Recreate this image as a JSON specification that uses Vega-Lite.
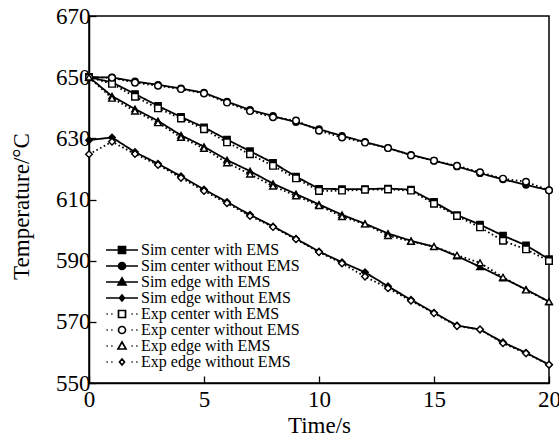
{
"$schema": "https://vega.github.io/schema/vega-lite/v6.json",
"width": 460, "height": 367,
"autosize": {"type": "none"},
"padding": {"left": 89, "top": 16, "right": 10, "bottom": 54},
"config": {
  "view": {"stroke": "#000", "strokeWidth": 1.5},
  "font": "Liberation Serif",
  "style": {"guide-label": {"font": "Liberation Serif"}, "guide-title": {"font": "Liberation Serif"}},
  "axis": {"grid": false, "domainColor": "#000", "domainWidth": 1.5, "tickColor": "#000", "tickWidth": 1.3, "tickSize": -7, "labelColor": "#000", "titleColor": "#000", "labelFont": "Liberation Serif", "titleFont": "Liberation Serif", "labelFontSize": 23, "titleFontSize": 23, "titleFontWeight": "normal", "labelFlush": false, "labelOverlap": false}
},
"datasets": {
  "main": [
{"t":0,"T":650.0,"s":"Sim center with EMS"},{"t":1,"T":648.3,"s":"Sim center with EMS"},{"t":2,"T":644.5,"s":"Sim center with EMS"},{"t":3,"T":640.6,"s":"Sim center with EMS"},{"t":4,"T":637.0,"s":"Sim center with EMS"},{"t":5,"T":633.6,"s":"Sim center with EMS"},{"t":6,"T":629.6,"s":"Sim center with EMS"},{"t":7,"T":625.8,"s":"Sim center with EMS"},{"t":8,"T":622.0,"s":"Sim center with EMS"},{"t":9,"T":617.5,"s":"Sim center with EMS"},{"t":10,"T":613.5,"s":"Sim center with EMS"},{"t":11,"T":613.4,"s":"Sim center with EMS"},{"t":12,"T":613.4,"s":"Sim center with EMS"},{"t":13,"T":613.6,"s":"Sim center with EMS"},{"t":14,"T":613.2,"s":"Sim center with EMS"},{"t":15,"T":609.2,"s":"Sim center with EMS"},{"t":16,"T":604.9,"s":"Sim center with EMS"},{"t":17,"T":601.8,"s":"Sim center with EMS"},{"t":18,"T":598.2,"s":"Sim center with EMS"},{"t":19,"T":595.0,"s":"Sim center with EMS"},{"t":20,"T":590.5,"s":"Sim center with EMS"},
{"t":0,"T":650.0,"s":"Sim center without EMS"},{"t":1,"T":649.9,"s":"Sim center without EMS"},{"t":2,"T":648.6,"s":"Sim center without EMS"},{"t":3,"T":647.5,"s":"Sim center without EMS"},{"t":4,"T":646.3,"s":"Sim center without EMS"},{"t":5,"T":644.9,"s":"Sim center without EMS"},{"t":6,"T":642.0,"s":"Sim center without EMS"},{"t":7,"T":639.3,"s":"Sim center without EMS"},{"t":8,"T":637.3,"s":"Sim center without EMS"},{"t":9,"T":635.3,"s":"Sim center without EMS"},{"t":10,"T":633.0,"s":"Sim center without EMS"},{"t":11,"T":630.8,"s":"Sim center without EMS"},{"t":12,"T":628.8,"s":"Sim center without EMS"},{"t":13,"T":626.8,"s":"Sim center without EMS"},{"t":14,"T":624.6,"s":"Sim center without EMS"},{"t":15,"T":622.7,"s":"Sim center without EMS"},{"t":16,"T":620.8,"s":"Sim center without EMS"},{"t":17,"T":618.6,"s":"Sim center without EMS"},{"t":18,"T":616.6,"s":"Sim center without EMS"},{"t":19,"T":614.8,"s":"Sim center without EMS"},{"t":20,"T":613.0,"s":"Sim center without EMS"},
{"t":0,"T":650.0,"s":"Sim edge with EMS"},{"t":1,"T":643.8,"s":"Sim edge with EMS"},{"t":2,"T":639.6,"s":"Sim edge with EMS"},{"t":3,"T":635.7,"s":"Sim edge with EMS"},{"t":4,"T":631.0,"s":"Sim edge with EMS"},{"t":5,"T":627.3,"s":"Sim edge with EMS"},{"t":6,"T":622.9,"s":"Sim edge with EMS"},{"t":7,"T":619.3,"s":"Sim edge with EMS"},{"t":8,"T":615.2,"s":"Sim edge with EMS"},{"t":9,"T":611.8,"s":"Sim edge with EMS"},{"t":10,"T":608.4,"s":"Sim edge with EMS"},{"t":11,"T":605.0,"s":"Sim edge with EMS"},{"t":12,"T":602.1,"s":"Sim edge with EMS"},{"t":13,"T":598.9,"s":"Sim edge with EMS"},{"t":14,"T":596.5,"s":"Sim edge with EMS"},{"t":15,"T":594.6,"s":"Sim edge with EMS"},{"t":16,"T":591.5,"s":"Sim edge with EMS"},{"t":17,"T":588.0,"s":"Sim edge with EMS"},{"t":18,"T":584.3,"s":"Sim edge with EMS"},{"t":19,"T":580.6,"s":"Sim edge with EMS"},{"t":20,"T":576.6,"s":"Sim edge with EMS"},
{"t":0,"T":629.4,"s":"Sim edge without EMS"},{"t":1,"T":630.3,"s":"Sim edge without EMS"},{"t":2,"T":625.5,"s":"Sim edge without EMS"},{"t":3,"T":621.7,"s":"Sim edge without EMS"},{"t":4,"T":617.6,"s":"Sim edge without EMS"},{"t":5,"T":613.3,"s":"Sim edge without EMS"},{"t":6,"T":609.2,"s":"Sim edge without EMS"},{"t":7,"T":605.0,"s":"Sim edge without EMS"},{"t":8,"T":601.2,"s":"Sim edge without EMS"},{"t":9,"T":597.2,"s":"Sim edge without EMS"},{"t":10,"T":593.0,"s":"Sim edge without EMS"},{"t":11,"T":589.5,"s":"Sim edge without EMS"},{"t":12,"T":586.2,"s":"Sim edge without EMS"},{"t":13,"T":581.6,"s":"Sim edge without EMS"},{"t":14,"T":577.2,"s":"Sim edge without EMS"},{"t":15,"T":573.0,"s":"Sim edge without EMS"},{"t":16,"T":568.8,"s":"Sim edge without EMS"},{"t":17,"T":567.5,"s":"Sim edge without EMS"},{"t":18,"T":563.3,"s":"Sim edge without EMS"},{"t":19,"T":559.9,"s":"Sim edge without EMS"},{"t":20,"T":556.0,"s":"Sim edge without EMS"},
{"t":0,"T":650.0,"s":"Exp center with EMS"},{"t":1,"T":647.8,"s":"Exp center with EMS"},{"t":2,"T":643.6,"s":"Exp center with EMS"},{"t":3,"T":639.8,"s":"Exp center with EMS"},{"t":4,"T":636.5,"s":"Exp center with EMS"},{"t":5,"T":633.0,"s":"Exp center with EMS"},{"t":6,"T":628.7,"s":"Exp center with EMS"},{"t":7,"T":624.8,"s":"Exp center with EMS"},{"t":8,"T":621.0,"s":"Exp center with EMS"},{"t":9,"T":616.9,"s":"Exp center with EMS"},{"t":10,"T":612.8,"s":"Exp center with EMS"},{"t":11,"T":612.9,"s":"Exp center with EMS"},{"t":12,"T":613.2,"s":"Exp center with EMS"},{"t":13,"T":613.3,"s":"Exp center with EMS"},{"t":14,"T":612.9,"s":"Exp center with EMS"},{"t":15,"T":608.6,"s":"Exp center with EMS"},{"t":16,"T":604.6,"s":"Exp center with EMS"},{"t":17,"T":600.9,"s":"Exp center with EMS"},{"t":18,"T":596.5,"s":"Exp center with EMS"},{"t":19,"T":593.7,"s":"Exp center with EMS"},{"t":20,"T":589.9,"s":"Exp center with EMS"},
{"t":0,"T":650.0,"s":"Exp center without EMS"},{"t":1,"T":649.8,"s":"Exp center without EMS"},{"t":2,"T":648.2,"s":"Exp center without EMS"},{"t":3,"T":647.2,"s":"Exp center without EMS"},{"t":4,"T":646.1,"s":"Exp center without EMS"},{"t":5,"T":644.7,"s":"Exp center without EMS"},{"t":6,"T":641.7,"s":"Exp center without EMS"},{"t":7,"T":638.9,"s":"Exp center without EMS"},{"t":8,"T":636.9,"s":"Exp center without EMS"},{"t":9,"T":635.8,"s":"Exp center without EMS"},{"t":10,"T":632.5,"s":"Exp center without EMS"},{"t":11,"T":630.3,"s":"Exp center without EMS"},{"t":12,"T":628.6,"s":"Exp center without EMS"},{"t":13,"T":626.8,"s":"Exp center without EMS"},{"t":14,"T":624.4,"s":"Exp center without EMS"},{"t":15,"T":622.7,"s":"Exp center without EMS"},{"t":16,"T":621.0,"s":"Exp center without EMS"},{"t":17,"T":618.9,"s":"Exp center without EMS"},{"t":18,"T":616.8,"s":"Exp center without EMS"},{"t":19,"T":615.8,"s":"Exp center without EMS"},{"t":20,"T":613.0,"s":"Exp center without EMS"},
{"t":0,"T":650.0,"s":"Exp edge with EMS"},{"t":1,"T":643.1,"s":"Exp edge with EMS"},{"t":2,"T":638.9,"s":"Exp edge with EMS"},{"t":3,"T":635.1,"s":"Exp edge with EMS"},{"t":4,"T":630.3,"s":"Exp edge with EMS"},{"t":5,"T":626.7,"s":"Exp edge with EMS"},{"t":6,"T":622.0,"s":"Exp edge with EMS"},{"t":7,"T":618.3,"s":"Exp edge with EMS"},{"t":8,"T":614.4,"s":"Exp edge with EMS"},{"t":9,"T":611.2,"s":"Exp edge with EMS"},{"t":10,"T":608.0,"s":"Exp edge with EMS"},{"t":11,"T":604.4,"s":"Exp edge with EMS"},{"t":12,"T":602.0,"s":"Exp edge with EMS"},{"t":13,"T":598.2,"s":"Exp edge with EMS"},{"t":14,"T":596.3,"s":"Exp edge with EMS"},{"t":15,"T":594.6,"s":"Exp edge with EMS"},{"t":16,"T":591.8,"s":"Exp edge with EMS"},{"t":17,"T":589.3,"s":"Exp edge with EMS"},{"t":18,"T":584.6,"s":"Exp edge with EMS"},{"t":19,"T":580.4,"s":"Exp edge with EMS"},{"t":20,"T":576.6,"s":"Exp edge with EMS"},
{"t":0,"T":624.8,"s":"Exp edge without EMS"},{"t":1,"T":628.9,"s":"Exp edge without EMS"},{"t":2,"T":624.9,"s":"Exp edge without EMS"},{"t":3,"T":621.3,"s":"Exp edge without EMS"},{"t":4,"T":617.1,"s":"Exp edge without EMS"},{"t":5,"T":612.8,"s":"Exp edge without EMS"},{"t":6,"T":608.8,"s":"Exp edge without EMS"},{"t":7,"T":604.6,"s":"Exp edge without EMS"},{"t":8,"T":601.0,"s":"Exp edge without EMS"},{"t":9,"T":597.0,"s":"Exp edge without EMS"},{"t":10,"T":592.8,"s":"Exp edge without EMS"},{"t":11,"T":589.1,"s":"Exp edge without EMS"},{"t":12,"T":584.8,"s":"Exp edge without EMS"},{"t":13,"T":581.0,"s":"Exp edge without EMS"},{"t":14,"T":576.9,"s":"Exp edge without EMS"},{"t":15,"T":572.8,"s":"Exp edge without EMS"},{"t":16,"T":568.6,"s":"Exp edge without EMS"},{"t":17,"T":567.5,"s":"Exp edge without EMS"},{"t":18,"T":563.0,"s":"Exp edge without EMS"},{"t":19,"T":559.7,"s":"Exp edge without EMS"},{"t":20,"T":556.0,"s":"Exp edge without EMS"}
  ]
},
"layer": [
  {
    "data": {"name": "main"},
    "mark": {"type": "line", "color": "#000", "strokeWidth": 1.8},
    "encoding": {
      "x": {"field": "t", "type": "quantitative", "scale": {"domain": [0, 20], "nice": false, "zero": false}, "axis": {"title": "Time/s", "values": [0, 5, 10, 15, 20], "labelPadding": 12, "titlePadding": 3, "labelFont": "Liberation Serif", "titleFont": "Liberation Serif"}},
      "y": {"field": "T", "type": "quantitative", "scale": {"domain": [550, 670], "nice": false, "zero": false}, "axis": {"title": "Temperature/°C", "values": [550, 570, 590, 610, 630, 650, 670], "labelPadding": 6, "titlePadding": 22, "titleY": 190, "labelFont": "Liberation Serif", "titleFont": "Liberation Serif"}},
      "detail": {"field": "s"},
      "strokeDash": {"field": "s", "type": "nominal", "legend": null, "scale": {"domain": ["Sim center with EMS","Sim center without EMS","Sim edge with EMS","Sim edge without EMS","Exp center with EMS","Exp center without EMS","Exp edge with EMS","Exp edge without EMS"], "range": [[1,0],[1,0],[1,0],[1,0],[1.6,2.6],[1.6,2.6],[1.6,2.6],[1.6,2.6]]}}
    }
  },
  {
    "data": {"name": "main"},
    "mark": {"type": "point", "stroke": "#000", "strokeWidth": 1.4, "opacity": 1},
    "encoding": {
      "x": {"field": "t", "type": "quantitative"},
      "y": {"field": "T", "type": "quantitative"},
      "shape": {"field": "s", "type": "nominal", "legend": null, "scale": {"domain": ["Sim center with EMS","Sim center without EMS","Sim edge with EMS","Sim edge without EMS","Exp center with EMS","Exp center without EMS","Exp edge with EMS","Exp edge without EMS"], "range": ["square","circle","triangle-up","diamond","square","circle","triangle-up","diamond"]}},
      "fill": {"field": "s", "type": "nominal", "legend": null, "scale": {"domain": ["Sim center with EMS","Sim center without EMS","Sim edge with EMS","Sim edge without EMS","Exp center with EMS","Exp center without EMS","Exp edge with EMS","Exp edge without EMS"], "range": ["#000","#000","#000","#000","#fff","#fff","#fff","#fff"]}},
      "size": {"field": "s", "type": "nominal", "legend": null, "scale": {"domain": ["Sim center with EMS","Sim center without EMS","Sim edge with EMS","Sim edge without EMS","Exp center with EMS","Exp center without EMS","Exp edge with EMS","Exp edge without EMS"], "range": [40, 45, 45, 22, 50, 64, 60, 30]}}
    }
  },
  {
    "data": {"values": [{"s":"Sim center with EMS"},{"s":"Sim center without EMS"},{"s":"Sim edge with EMS"},{"s":"Sim edge without EMS"},{"s":"Exp center with EMS"},{"s":"Exp center without EMS"},{"s":"Exp edge with EMS"},{"s":"Exp edge without EMS"}]},
    "mark": {"type": "point", "opacity": 0, "filled": true},
    "encoding": {
      "fill": {"field": "s", "type": "nominal",
        "scale": {"domain": ["Sim center with EMS","Sim center without EMS","Sim edge with EMS","Sim edge without EMS","Exp center with EMS","Exp center without EMS","Exp edge with EMS","Exp edge without EMS"], "range": ["#000","#000","#000","#000","#fff","#fff","#fff","#fff"]},
        "legend": {"title": null, "orient": "none", "legendX": 25, "legendY": 226, "padding": 0, "symbolSize": 100, "symbolStrokeWidth": 1.7, "symbolStrokeColor": "#000", "symbolOpacity": 1, "labelFont": "Liberation Serif", "labelFontSize": 16, "labelColor": "#000", "labelOffset": 11, "rowPadding": 0,
          "encode": {"symbols": {"update": {"opacity": {"value": 1}, "stroke": {"value": "#000"}}}}}
      },
      "shape": {"field": "s", "type": "nominal",
        "scale": {"domain": ["Sim center with EMS","Sim center without EMS","Sim edge with EMS","Sim edge without EMS","Exp center with EMS","Exp center without EMS","Exp edge with EMS","Exp edge without EMS"],
          "range": [
            "M -3.2 0 L 3.2 0 M -0.7 -0.7 L 0.7 -0.7 L 0.7 0.7 L -0.7 0.7 Z",
            "M -3.2 0 L 3.2 0 M -0.7 0 A 0.7 0.7 0 1 0 0.7 0 A 0.7 0.7 0 1 0 -0.7 0 Z",
            "M -3.2 0 L 3.2 0 M 0 -0.8 L 0.8 0.6 L -0.8 0.6 Z",
            "M -3.2 0 L 3.2 0 M 0 -0.6 L 0.5 0 L 0 0.6 L -0.5 0 Z",
            "M -3.1 0 L -2.85 0 M -2.15 0 L -1.9 0 M 1.9 0 L 2.15 0 M 2.85 0 L 3.1 0 M -0.7 -0.7 L 0.7 -0.7 L 0.7 0.7 L -0.7 0.7 Z",
            "M -3.1 0 L -2.85 0 M -2.15 0 L -1.9 0 M 1.9 0 L 2.15 0 M 2.85 0 L 3.1 0 M -0.7 0 A 0.7 0.7 0 1 0 0.7 0 A 0.7 0.7 0 1 0 -0.7 0 Z",
            "M -3.1 0 L -2.85 0 M -2.15 0 L -1.9 0 M 1.9 0 L 2.15 0 M 2.85 0 L 3.1 0 M 0 -0.8 L 0.8 0.6 L -0.8 0.6 Z",
            "M -3.1 0 L -2.85 0 M -2.15 0 L -1.9 0 M 1.9 0 L 2.15 0 M 2.85 0 L 3.1 0 M 0 -0.6 L 0.5 0 L 0 0.6 L -0.5 0 Z"
          ]},
        "legend": {"title": null, "orient": "none", "legendX": 25, "legendY": 226, "padding": 0, "symbolSize": 100, "symbolStrokeWidth": 1.7, "symbolStrokeColor": "#000", "symbolOpacity": 1, "labelFont": "Liberation Serif", "labelFontSize": 16, "labelColor": "#000", "labelOffset": 11, "rowPadding": 0,
          "encode": {"symbols": {"update": {"opacity": {"value": 1}, "stroke": {"value": "#000"}}}}}
      }
    }
  }
],
"resolve": {"scale": {"shape": "independent", "fill": "independent"}}
}
